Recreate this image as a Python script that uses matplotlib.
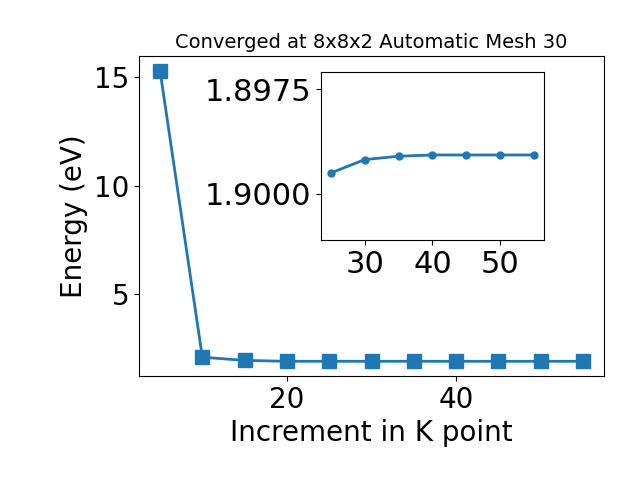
import matplotlib
matplotlib.use('Agg')
import matplotlib.pyplot as plt
from matplotlib.ticker import FormatStrFormatter

# k-point increments and total energies
kpoints = [5, 10, 15, 20, 25, 30, 35, 40, 45, 50, 55]
energy = [15.31, 2.09, 1.94, 1.8991, 1.8995, 1.89918, 1.89910, 1.89907, 1.89907, 1.89907, 1.89907]

# zoomed part (inset)
k_zoom = kpoints[4:]
e_zoom = energy[4:]

fig = plt.figure(figsize=(6.4, 4.8), dpi=100)
ax = fig.add_subplot(111)
fig.subplots_adjust(left=0.217, right=0.944, top=0.883, bottom=0.217)

ax.plot(kpoints, energy, marker='s', markersize=10, linewidth=2, color='#1f77b4')
ax.set_xlabel('Increment in K point', fontsize=20)
ax.set_ylabel('Energy (eV)', fontsize=20)
ax.tick_params(labelsize=20)
ax.set_yticks([5, 10, 15])
ax.set_title('Converged at 8x8x2 Automatic Mesh 30', fontsize=14)

# inset
axins = fig.add_axes([0.501, 0.5, 0.3495, 0.349])
axins.plot(k_zoom, e_zoom, marker='o', markersize=5, linewidth=2, color='#1f77b4')
axins.set_ylim(1.9011, 1.8971)
axins.set_yticks([1.8975, 1.9000])
axins.yaxis.set_major_formatter(FormatStrFormatter('%.4f'))
axins.set_xticks([30, 40, 50])
axins.tick_params(labelsize=22)

plt.savefig('out.png', dpi=100)
